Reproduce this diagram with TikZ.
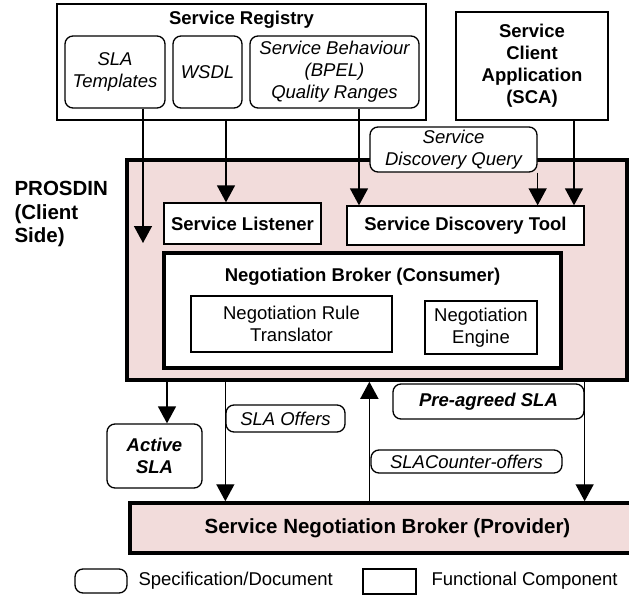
\documentclass[tikz,border=0pt]{standalone}
\usepackage{fontspec}
\setmainfont{Liberation Sans}
\usetikzlibrary{arrows.meta}
\definecolor{rosepale}{RGB}{242,220,219}

\begin{document}
\begin{tikzpicture}  % ------ PROSDIN, cote client et courtier fournisseur --------
      [x=1pt,y=-1pt,
       font=\fontsize{18.5}{22}\selectfont,
       comp/.style={draw,line width=1.3pt,fill=white,inner sep=1pt,align=center,
                    font=\fontsize{18.5}{22}\selectfont\bfseries},
       doc/.style={draw,line width=1.3pt,rounded corners=8pt,fill=white,inner sep=1pt,
                   align=center,font=\fontsize{18.5}{22}\selectfont\itshape},
       zone/.style={draw,line width=3.5pt,fill=rosepale},
       flow/.style={line width=1.4pt,-{Triangle[length=17pt,width=18pt]}}]

    \useasboundingbox (0,0) rectangle (629,605);

    % registre et application cliente
    \node[comp,minimum width=369pt,minimum height=116pt] (reg) at (241.5,62) {};
    \node[font=\fontsize{18.5}{22}\selectfont\bfseries] (regtitle) at (241.5,20) {Service Registry};
    \node[doc,minimum width=100pt,minimum height=72pt] (slatpl) at (115,72) {SLA\\Templates};
    \node[doc,minimum width=69pt,minimum height=72pt] (wsdl) at (207.5,72) {WSDL};
    \node[doc,minimum width=169pt,minimum height=72pt] (behav) at (334.5,72)
         {Service Behaviour\\(BPEL)\\Quality Ranges};
    \node[comp,minimum width=152pt,minimum height=108pt] (sca) at (532,66)
         {Service\\Client\\Application\\(SCA)};

    % PROSDIN (client)
    \node[zone,minimum width=500pt,minimum height=220pt] (prosdin) at (377,270) {};
    \node[anchor=west,align=left,font=\fontsize{20.5}{23.5}\selectfont\bfseries] (side) at (11,214)
         {PROSDIN\\(Client\\Side)};
    \node[doc,minimum width=167pt,minimum height=45pt] (query) at (453.5,149.5)
         {Service\\Discovery Query};
    \node[comp,minimum width=157pt,minimum height=41pt] (listener) at (242.5,223.5) {Service Listener};
    \node[comp,minimum width=237pt,minimum height=39pt] (tool) at (465.5,225.5) {Service Discovery Tool};
    \node[comp,line width=3.5pt,minimum width=397pt,minimum height=115pt] (nbc) at (362.5,310.5) {};
    \node[font=\fontsize{18.5}{22}\selectfont\bfseries] (nbctitle) at (362.5,277)
         {Negotiation Broker (Consumer)};
    \node[comp,font=\fontsize{18.5}{22}\selectfont,minimum width=201pt,minimum height=56pt] (nrt)
         at (291.5,324) {Negotiation Rule\\Translator};
    \node[comp,font=\fontsize{18.5}{22}\selectfont,minimum width=112pt,minimum height=53pt] (ne)
         at (481,327.5) {Negotiation\\Engine};

    % echanges avec le fournisseur
    \node[doc,font=\fontsize{18.5}{22}\selectfont\bfseries\itshape,minimum width=95pt,minimum height=64pt]
         (active) at (154.5,456) {Active\\SLA};
    \node[doc,minimum width=119pt,minimum height=27pt] (offers) at (285.5,418.5) {SLA Offers};
    \node[doc,font=\fontsize{18.5}{22}\selectfont\bfseries\itshape,minimum width=191pt,minimum height=35pt]
         (preagreed) at (488.5,401.5) {Pre-agreed SLA};
    \node[doc,minimum width=191pt,minimum height=23pt] (counter) at (466.5,461.5) {SLACounter-offers};
    \node[zone,minimum width=515pt,minimum height=50pt,font=\fontsize{20.5}{24}\selectfont\bfseries]
         (provider) at (387.5,528) {Service Negotiation Broker (Provider)};

    % legende
    \node[doc,minimum width=52pt,minimum height=24pt] (legdoc) at (101,581) {};
    \node[anchor=west] (legdoctxt) at (135,581) {Specification/Document};
    \node[comp,minimum width=53pt,minimum height=25pt] (legcomp) at (389.5,581.5) {};
    \node[anchor=west] (legcomptxt) at (428,581) {Functional Component};

    % fleches
    \coordinate (t1) at (143,243);
    \draw[flow] ([xshift=28pt]slatpl.south) -- (t1);
    \draw[flow] ([xshift=-16.5pt]listener.north |- reg.south) -- ([xshift=-16.5pt]listener.north);
    \draw[flow] ([xshift=24.5pt]behav.south) -- ([xshift=24.5pt]behav.south |- tool.north);
    \draw[flow] (query.south east) -- (query.south east |- tool.north);
    \draw[flow] ([xshift=42pt]sca.south) -- ([xshift=42pt]sca.south |- tool.north);
    \draw[flow] ([xshift=12.5pt]active.north |- prosdin.south) -- ([xshift=12.5pt]active.north);
    \draw[flow] (offers.west |- prosdin.south) -- (offers.west |- provider.north);
    \draw[flow] ([xshift=-1pt]counter.west |- provider.north) -- ([xshift=-1pt]counter.west |- prosdin.south);
    \draw[flow] (preagreed.east |- prosdin.south) -- (preagreed.east |- provider.north);
\end{tikzpicture}
\end{document}
